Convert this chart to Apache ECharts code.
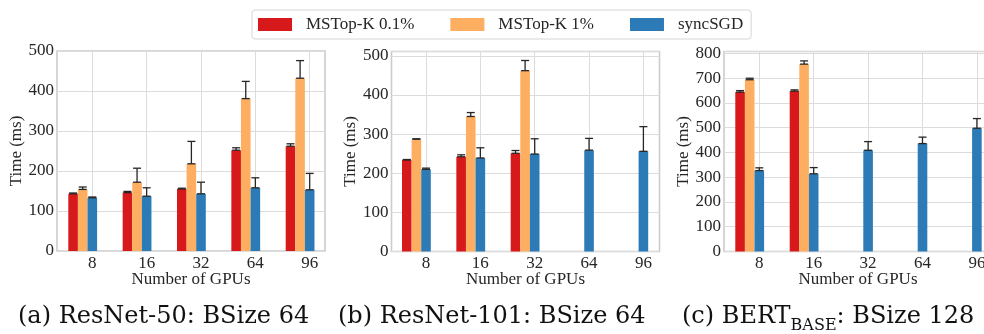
<!DOCTYPE html>
<html>
<head>
<meta charset="utf-8">
<script src="https://cdn.jsdelivr.net/npm/echarts@6/dist/echarts.min.js"></script>
<style>
html,body{margin:0;padding:0;background:#fff;}
#chart{width:984px;height:334px;}
</style>
</head>
<body>
<div id="chart"></div>
<script>
// ---- data ----
const categories = ['8', '16', '32', '64', '96'];
const seriesNames = ['MSTop-K 0.1%', 'MSTop-K 1%', 'syncSGD'];
const colors = ['#d7191c', '#fdae61', '#2c7bb6'];

// (a) ResNet-50
const aMsk01 = [143, 146, 155, 252, 262];
const aMsk01Top = [145, 149, 157, 258, 268];
const aMsk1 = [154, 172, 218, 381, 432];
const aMsk1Top = [160, 207, 274, 424, 476];
const aSync = [133, 137, 143, 158, 153];
const aSyncTop = [135, 158, 172, 183, 194];

// (b) ResNet-101
const bMsk01 = [234, 242, 251, null, null];
const bMsk01Top = [235, 247, 258, null, null];
const bMsk1 = [287, 345, 462, null, null];
const bMsk1Top = [288, 355, 488, null, null];
const bSync = [210, 239, 249, 259, 256];
const bSyncTop = [213, 265, 288, 289, 319];

// (c) BERT-base
const cMsk01 = [644, 648, null, null, null];
const cMsk01Top = [650, 653, null, null, null];
const cMsk1 = [694, 757, null, null, null];
const cMsk1Top = [700, 770, null, null, null];
const cSync = [327, 314, 409, 436, 498];
const cSyncTop = [338, 339, 444, 462, 537];

const yMax = [500, 511, 808];
const yInterval = 100;
const captions = ['(a) ResNet-50: BSize 64', '(b) ResNet-101: BSize 64'];

// ---- layout ----
const panels = [
  {frame: {left: 57, top: 51, width: 268, height: 200}, ticks: {left: 92.3, width: 217.4},
   vals: [aMsk01, aMsk1, aSync], tops: [aMsk01Top, aMsk1Top, aSyncTop]},
  {frame: {left: 391.5, top: 51.5, width: 268, height: 200}, ticks: {left: 426, width: 217.4},
   vals: [bMsk01, bMsk1, bSync], tops: [bMsk01Top, bMsk1Top, bSyncTop]},
  {frame: {left: 724, top: 51.5, width: 268, height: 200}, ticks: {left: 759.3, width: 217.6},
   vals: [cMsk01, cMsk1, cSync], tops: [cMsk01Top, cMsk1Top, cSyncTop]}
];

const FONT = 'Liberation Serif';
const TXT = '#262626';
const GRIDC = '#dcdcdc';
const BW = 9.6;

const grid = [], xAxis = [], yAxis = [], series = [];
panels.forEach((p, pi) => {
  const gA = 2 * pi, gB = 2 * pi + 1;
  grid.push({left: p.frame.left, top: p.frame.top, width: p.frame.width, height: p.frame.height,
    show: true, borderColor: '#cccccc', borderWidth: 1.6, backgroundColor: 'transparent',
    containLabel: false, outerBoundsMode: 'none'});
  grid.push({left: p.ticks.left, top: p.frame.top, width: p.ticks.width, height: p.frame.height,
    show: false, containLabel: false, outerBoundsMode: 'none'});
  xAxis.push({gridIndex: gA, type: 'value', min: 0, max: 1, show: true,
    axisLine: {show: false}, axisTick: {show: false}, axisLabel: {show: false}, splitLine: {show: false},
    name: 'Number of GPUs', nameLocation: 'middle', nameGap: 20,
    nameTextStyle: {fontFamily: FONT, fontSize: 17, color: TXT}});
  xAxis.push({gridIndex: gB, type: 'category', data: categories, boundaryGap: false,
    axisLine: {show: false}, axisTick: {show: false},
    axisLabel: {margin: 4, fontFamily: FONT, fontSize: 17, color: TXT},
    splitLine: {show: true, lineStyle: {color: GRIDC, width: 1}}});
  yAxis.push({gridIndex: gA, type: 'value', min: 0, max: yMax[pi], interval: yInterval,
    axisLine: {show: false}, axisTick: {show: false},
    axisLabel: {margin: 3, fontFamily: FONT, fontSize: 17, color: TXT,
      formatter: v => (v % 100 === 0 ? String(v) : '')},
    splitLine: {show: true, lineStyle: {color: GRIDC, width: 1}},
    name: 'Time (ms)', nameLocation: 'middle', nameGap: 31,
    nameTextStyle: {fontFamily: FONT, fontSize: 17, color: TXT}});
  yAxis.push({gridIndex: gB, type: 'value', min: 0, max: yMax[pi], show: false});

  for (let k = 0; k < 3; k++) {
    series.push({type: 'bar', name: seriesNames[k], xAxisIndex: gB, yAxisIndex: gB,
      data: p.vals[k], barWidth: BW, barGap: '0%', clip: false,
      itemStyle: {color: colors[k]}, z: 3});
  }
  // two empty slots so that the syncSGD bar sits on the tick, as in the original
  for (let k = 0; k < 2; k++) {
    series.push({type: 'bar', name: '_pad' + k, xAxisIndex: gB, yAxisIndex: gB,
      data: categories.map(() => null), barWidth: BW, barGap: '0%', silent: true});
  }
  for (let k = 0; k < 3; k++) {
    const d = [];
    p.vals[k].forEach((v, i) => { if (v != null) d.push([i, v, p.tops[k][i]]); });
    const off = (k - 2) * BW;
    series.push({type: 'custom', xAxisIndex: gB, yAxisIndex: gB, data: d, clip: false, z: 5, silent: true,
      encode: {x: 0, y: [1, 2]},
      renderItem: (params, api) => {
        const lo = api.coord([api.value(0), api.value(1)]);
        const hi = api.coord([api.value(0), api.value(2)]);
        const x = lo[0] + off;
        const st = {stroke: '#262626', lineWidth: 1.3};
        return {type: 'group', children: [
          {type: 'line', shape: {x1: x, y1: lo[1], x2: x, y2: hi[1]}, style: st},
          {type: 'line', shape: {x1: x - 4, y1: hi[1], x2: x + 4, y2: hi[1]}, style: st},
          {type: 'line', shape: {x1: x - 4, y1: lo[1], x2: x + 4, y2: lo[1]}, style: st}
        ]};
      }});
  }
});

const capFont = 'DejaVu Serif';
const option = {
  animation: false,
  backgroundColor: '#ffffff',
  legend: {
    data: seriesNames, left: 252, top: 10, orient: 'horizontal',
    icon: 'rect', itemWidth: 34, itemHeight: 13, itemGap: 36,
    padding: [6, 8, 6, 6], borderColor: '#d6d6d6', borderWidth: 1, borderRadius: 3,
    textStyle: {fontFamily: FONT, fontSize: 17, color: TXT, padding: [0, 0, 0, 9]},
    selectedMode: false
  },
  grid, xAxis, yAxis, series,
  graphic: [
    {type: 'text', left: 18, top: 305, style: {text: captions[0], font: '24px "' + capFont + '"', fill: '#111'}},
    {type: 'text', left: 338, top: 305, style: {text: captions[1], font: '24px "' + capFont + '"', fill: '#111'}},
    {type: 'text', left: 682, top: 305, style: {
      text: '{m|(c) BERT}{s|BASE}{m|: BSize 128}',
      rich: {
        m: {fontFamily: capFont, fontSize: 24, fill: '#111', color: '#111', lineHeight: 29, verticalAlign: 'top'},
        s: {fontFamily: capFont, fontSize: 16, fill: '#111', color: '#111', lineHeight: 29, verticalAlign: 'bottom'}
      }}}
  ]
};

const chart = echarts.init(document.getElementById('chart'), null, {renderer: 'canvas'});
chart.setOption(option);
</script>
</body>
</html>
